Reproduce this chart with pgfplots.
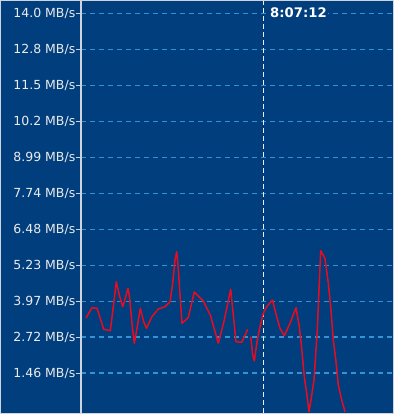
\documentclass[border=0pt]{standalone}
\usepackage{fontspec}
\setmainfont{DejaVu Sans}
\usepackage{pgfplots}
\pgfplotsset{compat=1.18}
\definecolor{bgblue}{RGB}{0,62,126}
\definecolor{gridblue}{RGB}{50,148,212}
\definecolor{framegray}{RGB}{205,212,222}
\definecolor{linered}{RGB}{235,10,30}
\begin{document}
\begin{tikzpicture}
\useasboundingbox (-81pt,-5pt) rectangle (313pt,413pt);
\fill[white] (-81pt,-5pt) rectangle (313pt,413pt);
\fill[bgblue] (-80.5pt,0pt) rectangle (312.5pt,412.5pt);
\begin{axis}[
  scale only axis,
  width=312pt, height=412pt,
  xmin=0, xmax=312,
  ymin=0.063, ymax=14.455,
  axis x line=none,
  axis y line*=left,
  axis line style={draw=framegray, line width=1.4pt, -},
  xtick=\empty,
  ytick={1.46,2.7145,3.969,5.2235,6.478,7.7325,8.987,10.2415,11.496,12.7505,14.005},
  yticklabels={1.46 MB/s,2.72 MB/s,3.97 MB/s,5.23 MB/s,6.48 MB/s,7.74 MB/s,8.99 MB/s,10.2 MB/s,11.5 MB/s,12.8 MB/s,14.0 MB/s},
  tick align=outside,
  major tick length=5pt,
  ytick style={draw=framegray, line width=0.9pt},
  yticklabel style={text=white!92!black, font=\fontsize{12.5}{14}\selectfont, inner sep=0pt, xshift=-0.5pt},
  ymajorgrids,
  grid style={draw=gridblue, line width=1.2pt, dash pattern=on 5pt off 4pt},
  unbounded coords=jump,
  clip=true,
]
\addplot[draw=white!85!gray, line width=1.3pt, dash pattern=on 5pt off 3pt, forget plot] coordinates {(182.5,0.063) (182.5,14.455)};
\addplot[linered, line width=1.5pt, line join=round] table {
x y
5 3.381
11 3.741
16 3.720
19.3 3.371
22.7 2.986
29.3 2.938
31.7 3.601
35.3 4.649
38.3 4.185
41.7 3.776
44.3 4.069
47 4.419
48.5 4.125
51 3.196
53.3 2.497
56 3.021
59.3 3.720
62.7 3.252
65.5 3.021
70.7 3.416
77.3 3.696
84 3.776
89 3.951
91.5 4.534
94 5.407
95.7 5.697
97.3 5.117
99 4.185
101 3.196
107.3 3.399
113.3 4.289
122.3 3.975
129.5 3.468
137.3 2.497
143.3 3.311
149.7 4.384
155 2.553
160.7 2.532
166.7 2.986
168 nan
169.7 2.728
171.7 2.089
173.3 1.879
176 2.543
179 3.077
182.3 3.545
185.7 3.776
191.5 4.010
195.7 3.427
199 3.021
203.3 2.763
209 3.196
215 3.741
218.3 3.077
220.7 2.323
223.3 1.331
225.7 0.751
228 0.108
230 0.517
233 1.215
236.3 2.962
237.7 4.125
239.7 5.732
244 5.466
247.3 4.593
249.7 3.776
252.3 2.613
255 1.855
257.3 1.041
260.7 0.517
264 0.108
};
\node[anchor=west, fill=bgblue, inner xsep=1.5pt, inner ysep=2pt, text=white, font=\bfseries\fontsize{13.2}{15}\selectfont] at (axis cs:187.5,14.03) {8:07:12};
\end{axis}
\draw[framegray, line width=1pt] (-80.5pt,0pt) rectangle (312.5pt,412.5pt);
\end{tikzpicture}
\end{document}
